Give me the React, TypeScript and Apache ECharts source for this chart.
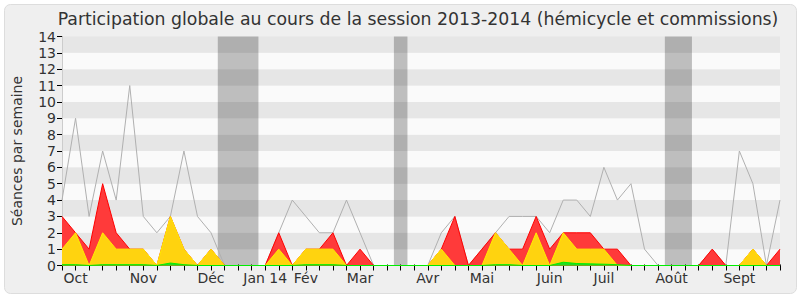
import React, { useEffect, useRef } from "react";
import * as echarts from "echarts";

const weeks: number[] = Array.from({ length: 54 }, (_, i) => i);
const totalLine = [4, 9, 3, 7, 4, 11, 3, 2, 3, 7, 3, 2, 0, 0, 0, 0, 2, 4, 3, 2, 2, 4, 2, 0, 0, 0, 0, 0, 2, 3, 0, 1, 2, 3, 3, 3, 2, 4, 4, 3, 6, 4, 5, 1, 0, 0, 0, 0, 1, 0, 7, 5, 0, 4];
const redValues = [3, 2, 1, 5, 2, 1, 1, 0, 3, 1, 0, 1, 0, 0, 0, 0, 2, 0, 1, 1, 2, 0, 1, 0, 0, 0, 0, 0, 1, 3, 0, 1, 2, 1, 1, 3, 1, 2, 2, 2, 1, 1, 0, 0, 0, 0, 0, 0, 1, 0, 0, 1, 0, 1];
const yellowValues = [1, 2, 0, 2, 1, 1, 1, 0, 3, 1, 0, 1, 0, 0, 0, 0, 1, 0, 1, 1, 1, 0, 0, 0, 0, 0, 0, 0, 1, 0, 0, 0, 2, 1, 0, 2, 0, 2, 1, 1, 1, 0, 0, 0, 0, 0, 0, 0, 0, 0, 0, 1, 0, 0];
const greenValues = [0.05, 0.05, 0, 0.05, 0.05, 0.05, 0.05, 0, 0.15, 0.05, 0, 0, 0, 0, 0, 0, 0, 0, 0.05, 0.05, 0.05, 0, 0, 0, 0, 0, 0, 0, 0, 0, 0, 0, 0.05, 0.05, 0, 0, 0, 0.2, 0.12, 0.1, 0.08, 0.05, 0, 0, 0, 0, 0, 0, 0, 0, 0, 0, 0, 0];
const monthTickIndex = [1, 6, 11, 15, 18, 22, 27, 31, 36, 40, 45, 50];
const monthTickLabels = ["Oct", "Nov", "Déc", "Jan 14", "Fév", "Mar", "Avr", "Mai", "Juin", "Juil", "Août", "Sept"];
const vacationBands: [number, number][] = [[11.5, 14.5], [24.5, 25.5], [44.5, 46.5]];

const FONT = "DejaVu Sans";

export default function App() {
  const ref = useRef<HTMLDivElement>(null);
  useEffect(() => {
    if (!ref.current) return;
    const chart = echarts.init(ref.current, null, { renderer: "svg" });
    const pts = (arr: number[]) => weeks.map((w, i) => [w, arr[i]]);
    const labelFor = (v: number) => {
      const k = monthTickIndex.indexOf(Math.round(v));
      return k >= 0 && Math.abs(v - Math.round(v)) < 1e-6 ? monthTickLabels[k] : "";
    };
    chart.setOption({
      animation: false,
      backgroundColor: "#ffffff",
      graphic: [
        {
          type: "rect",
          z: -10,
          shape: { x: 4.5, y: 4.5, width: 792, height: 289, r: 6 },
          style: { fill: "#efefef", stroke: "#dddddd", lineWidth: 1 },
          silent: true,
        },
      ],
      title: {
        text: "Participation globale au cours de la session 2013-2014 (hémicycle et commissions)",
        left: 413,
        textAlign: "center",
        top: 5,
        textStyle: { fontFamily: FONT, fontSize: 17.3, fontWeight: "normal", color: "#333333" },
      },
      grid: { left: 62, right: 20, top: 36.5, bottom: 34.5, containLabel: false },
      xAxis: [
        {
          type: "value",
          min: 0,
          max: 53,
          interval: 1,
          axisLine: { show: true, onZero: false, lineStyle: { color: "#000000", width: 1 } },
          axisTick: { show: true, length: 5, lineStyle: { color: "#000000" } },
          axisLabel: {
            show: true,
            interval: 0,
            hideOverlap: false,
            showMinLabel: true,
            showMaxLabel: true,
            formatter: labelFor,
            fontFamily: FONT,
            fontSize: 14,
            color: "#333333",
            margin: 5,
          },
          splitLine: { show: false },
        },
        {
          type: "value",
          position: "top",
          min: 0,
          max: 53,
          interval: 1,
          axisLine: { show: false },
          axisTick: { show: true, length: 1, lineStyle: { color: "#000000" } },
          axisLabel: { show: false },
          splitLine: { show: false },
        },
      ],
      yAxis: [
        {
          type: "value",
          min: 0,
          max: 14,
          interval: 1,
          name: "Séances par semaine",
          nameLocation: "middle",
          nameGap: 38,
          nameTextStyle: { fontFamily: FONT, fontSize: 14, color: "#333333" },
          axisLine: { show: true, lineStyle: { color: "#000000", width: 1 } },
          axisTick: { show: true, length: 5, lineStyle: { color: "#000000" } },
          axisLabel: { fontFamily: FONT, fontSize: 14, color: "#333333", margin: 6 },
          splitLine: { show: false },
          splitArea: { show: true, areaStyle: { color: ["#fafafa", "#e6e6e6"] } },
        },
        {
          type: "value",
          position: "right",
          min: 0,
          max: 14,
          interval: 1,
          axisLine: { show: true, lineStyle: { color: "#cccccc", width: 1 } },
          axisTick: { show: false },
          axisLabel: { show: false },
          splitLine: { show: false },
        },
      ],
      series: [
        {
          name: "total",
          type: "line",
          data: pts(totalLine),
          symbol: "none",
          lineStyle: { color: "#b0b0b0", width: 1 },
          z: 1,
          markArea: {
            silent: true,
            itemStyle: { color: "rgba(0,0,0,0.24)" },
            data: vacationBands.map(([a, b]) => [{ xAxis: a }, { xAxis: b }]),
          },
        },
        {
          name: "red",
          type: "line",
          data: pts(redValues),
          symbol: "none",
          lineStyle: { color: "#ff0000", width: 1 },
          areaStyle: { color: "#ff3a3a", opacity: 1 },
          z: 2,
        },
        {
          name: "yellow",
          type: "line",
          data: pts(yellowValues),
          symbol: "none",
          lineStyle: { color: "#ffee00", width: 1 },
          areaStyle: { color: "#ffd30f", opacity: 1 },
          z: 3,
        },
        {
          name: "green",
          type: "line",
          data: pts(greenValues),
          symbol: "none",
          lineStyle: { color: "#00ee00", width: 1 },
          areaStyle: { color: "#22dd22", opacity: 1 },
          z: 4,
        },
      ],
    });
    return () => chart.dispose();
  }, []);
  return <div ref={ref} style={{ width: 800, height: 300, position: "absolute", left: 0, top: 0 }} />;
}
